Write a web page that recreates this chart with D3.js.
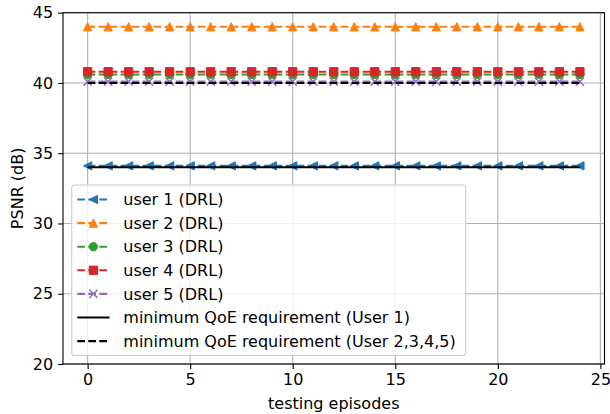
<!DOCTYPE html>
<html>
<head>
<meta charset="utf-8">
<script src="https://cdn.jsdelivr.net/npm/d3@7"></script>
<style>
  body { margin: 0; background: #fff; }
  svg text { font-family: "DejaVu Sans", sans-serif; }
</style>
</head>
<body>
<div id="chart"></div>
<script>
// Data.
const episodes = d3.range(0, 25);
const user1 = episodes.map(() => 34.1);
const user2 = episodes.map(() => 44.0);
const user3 = episodes.map(() => 40.6);
const user4 = episodes.map(() => 40.8);
const user5 = episodes.map(() => 40.1);
const qoeUser1 = episodes.map(() => 34);
const qoeOthers = episodes.map(() => 40);

const xTicks = [0, 5, 10, 15, 20, 25];
const yTicks = [20, 25, 30, 35, 40, 45];

const series = [
  { name: 'user 1 (DRL)', values: user1, color: '#1f77b4', marker: 'tri-left', dashed: true },
  { name: 'user 2 (DRL)', values: user2, color: '#ff7f0e', marker: 'tri-up', dashed: true },
  { name: 'user 3 (DRL)', values: user3, color: '#2ca02c', marker: 'circle', dashed: true },
  { name: 'user 4 (DRL)', values: user4, color: '#d62728', marker: 'square', dashed: true },
  { name: 'user 5 (DRL)', values: user5, color: '#9467bd', marker: 'x', dashed: true },
  { name: 'minimum QoE requirement (User 1)', values: qoeUser1, color: '#000', marker: null, dashed: false },
  { name: 'minimum QoE requirement (User 2,3,4,5)', values: qoeOthers, color: '#000', marker: null, dashed: true }
];

const width = 610;
const height = 414;
const margin = { left: 63, right: 5.5, top: 12.7, bottom: 50 };
const lineWidth = 2.08;
const dash = '7.7,3.3';
const ms = 8.3; // marker size in px
const fontSize = '16px';

const svg = d3.select('#chart')
  .append('svg')
  .attr('width', width)
  .attr('height', height);

const x = d3.scaleLinear()
  .domain([-1.2, 25.2])
  .range([margin.left, width - margin.right]);

const y = d3.scaleLinear()
  .domain([20, 45])
  .range([height - margin.bottom, margin.top]);

// Grid.
const grid = svg.append('g')
  .attr('stroke', '#b0b0b0')
  .attr('stroke-width', 1.1);

grid.selectAll('line.gx')
  .data(xTicks)
  .join('line')
  .attr('x1', d => x(d)).attr('x2', d => x(d))
  .attr('y1', y(20)).attr('y2', y(45));

grid.selectAll('line.gy')
  .data(yTicks)
  .join('line')
  .attr('class', 'gy')
  .attr('x1', x(-1.2)).attr('x2', x(25.2))
  .attr('y1', d => y(d)).attr('y2', d => y(d));

// Marker path builder, centred at 0,0.
const markerPath = (type, s) => {
  const h = s / 2;
  switch (type) {
    case 'tri-up': return `M0,${-h}L${-h},${h}L${h},${h}Z`;
    case 'tri-left': return `M${-h},0L${h},${-h}L${h},${h}Z`;
    case 'square': return `M${-h},${-h}H${h}V${h}H${-h}Z`;
    case 'circle': return `M${h},0A${h},${h} 0 1,1 ${-h},0A${h},${h} 0 1,1 ${h},0Z`;
    case 'x': return `M${-h},${-h}L${h},${h}M${-h},${h}L${h},${-h}`;
    default: return '';
  }
};

const drawMarker = (sel, type, color) => {
  sel.attr('d', markerPath(type, ms))
    .attr('fill', type === 'x' ? 'none' : color)
    .attr('stroke', color)
    .attr('stroke-width', type === 'x' ? 1.4 : 1.0)
    .attr('stroke-linejoin', 'miter');
};

const plot = svg.append('g');

const line = d3.line()
  .x((d, i) => x(episodes[i]))
  .y(d => y(d));

series.forEach(s => {
  const g = plot.append('g');
  g.append('path')
    .datum(s.values)
    .attr('d', line)
    .attr('fill', 'none')
    .attr('stroke', s.color)
    .attr('stroke-width', lineWidth)
    .attr('stroke-dasharray', s.dashed ? dash : null);

  if (s.marker) {
    g.selectAll('path.m')
      .data(s.values)
      .join('path')
      .attr('class', 'm')
      .attr('transform', (d, i) => `translate(${x(episodes[i])},${y(d)})`)
      .call(sel => drawMarker(sel, s.marker, s.color));
  }
});

// Axes.
const xAxis = svg.append('g')
  .attr('transform', `translate(0,${y(20)})`)
  .call(d3.axisBottom(x).tickValues(xTicks).tickSize(4.9).tickPadding(4.9));

const yAxis = svg.append('g')
  .attr('transform', `translate(${x(-1.2)},0)`)
  .call(d3.axisLeft(y).tickValues(yTicks).tickSize(4.9).tickPadding(4.9));

[xAxis, yAxis].forEach(a => {
  a.select('.domain').remove();
  a.selectAll('line').attr('stroke', '#000').attr('stroke-width', 1.1);
  a.selectAll('text')
    .attr('fill', '#000')
    .style('font-size', fontSize)
    .style('font-family', '"DejaVu Sans", sans-serif');
});

// Frame.
svg.append('rect')
  .attr('x', x(-1.2))
  .attr('y', y(45))
  .attr('width', x(25.2) - x(-1.2))
  .attr('height', y(20) - y(45))
  .attr('fill', 'none')
  .attr('stroke', '#000')
  .attr('stroke-width', 1.1);

// Axis labels.
svg.append('text')
  .attr('x', (x(-1.2) + x(25.2)) / 2)
  .attr('y', 409)
  .attr('text-anchor', 'middle')
  .style('font-size', fontSize)
  .text('testing episodes');

svg.append('text')
  .attr('transform', `translate(23,${(y(20) + y(45)) / 2}) rotate(-90)`)
  .attr('text-anchor', 'middle')
  .style('font-size', fontSize)
  .text('PSNR (dB)');

// Legend.
const legendX = 71.7;
const legendY = 185;
const rowH = 23.6;

const legend = svg.append('g');

legend.append('rect')
  .attr('x', legendX)
  .attr('y', legendY)
  .attr('width', 394)
  .attr('height', 170.5)
  .attr('rx', 3)
  .attr('fill', '#fff')
  .attr('fill-opacity', 0.8)
  .attr('stroke', '#cccccc')
  .attr('stroke-width', 1.1);

const rows = legend.selectAll('g.row')
  .data(series)
  .join('g')
  .attr('class', 'row')
  .attr('transform', (d, i) => `translate(0,${legendY + 14.5 + i * rowH})`);

rows.append('line')
  .attr('x1', 77.3)
  .attr('x2', 109.5)
  .attr('y1', 0)
  .attr('y2', 0)
  .attr('stroke', d => d.color)
  .attr('stroke-width', lineWidth)
  .attr('stroke-dasharray', d => d.dashed ? dash : null);

rows.filter(d => d.marker)
  .append('path')
  .attr('transform', 'translate(93.4,0)')
  .each(function (d) { drawMarker(d3.select(this), d.marker, d.color); });

rows.append('text')
  .attr('x', 123.3)
  .attr('y', 0)
  .attr('dy', '0.35em')
  .style('font-size', fontSize)
  .text(d => d.name);
</script>
</body>
</html>
